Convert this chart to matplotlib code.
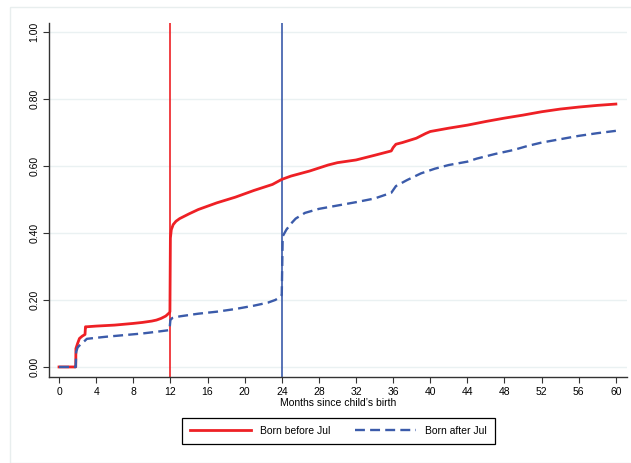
import numpy as np
import matplotlib.pyplot as plt
from matplotlib.patches import Rectangle

plt.rcParams['font.family'] = ['Liberation Sans', 'DejaVu Sans']

# Born before Jul
before_m = [0, 1.8, 1.82, 2.0, 2.2, 2.5, 2.8, 2.85, 3, 4, 6, 8, 9, 10, 10.5, 11, 11.5, 11.9,
            11.95, 12.0, 12.1, 12.3, 12.6, 13, 14, 15, 17, 19, 21, 23, 24, 25, 27, 29, 30,
            32, 34, 35.8, 36.0, 36.3, 37, 38.5, 39.5, 40, 42, 44, 46, 48, 50, 52, 54, 56, 58, 60]
before_v = [0, 0, 0.055, 0.07, 0.085, 0.092, 0.097, 0.12, 0.12, 0.122, 0.125, 0.13, 0.133, 0.137,
            0.14, 0.145, 0.152, 0.162, 0.165, 0.385, 0.41, 0.425, 0.435, 0.443, 0.457, 0.47, 0.49,
            0.507, 0.527, 0.545, 0.56, 0.57, 0.585, 0.603, 0.61, 0.618, 0.632, 0.645, 0.655, 0.665,
            0.67, 0.683, 0.697, 0.703, 0.713, 0.722, 0.733, 0.743, 0.752, 0.762, 0.77, 0.776, 0.781, 0.785]

# Born after Jul
after_m = [0, 1.8, 1.85, 2.0, 2.3, 2.7, 3, 4, 5, 7, 9, 10.5, 11.9, 12.0, 12.2, 13, 15, 17, 19, 21,
           22.5, 23.3, 23.8, 24.0, 24.1, 24.5, 25, 25.5, 26.5, 28, 30, 32, 34, 35.8, 36.3, 37.5,
           39, 40.5, 42, 44, 45, 47, 49, 50.5, 52, 54, 56, 58, 60]
after_v = [0, 0, 0.045, 0.058, 0.067, 0.076, 0.084, 0.087, 0.09, 0.095, 0.1, 0.105, 0.11, 0.14,
           0.146, 0.151, 0.159, 0.165, 0.173, 0.183, 0.192, 0.2, 0.208, 0.215, 0.39, 0.41, 0.428,
           0.443, 0.46, 0.472, 0.482, 0.492, 0.503, 0.52, 0.54, 0.558, 0.578, 0.592, 0.603, 0.613,
           0.622, 0.636, 0.648, 0.66, 0.67, 0.68, 0.69, 0.698, 0.705]

x_ticks = list(range(0, 61, 4))
y_ticks = [0, 0.2, 0.4, 0.6, 0.8, 1.0]
y_labels = ['0.00', '0.20', '0.40', '0.60', '0.80', '1.00']

red = '#EE2025'
blue = '#3B5BAA'

fig = plt.figure(figsize=(6.31, 4.63), dpi=100)
fig.patches.append(Rectangle((10/631, 0), 1, 1 - 7/463, transform=fig.transFigure,
                             fill=False, edgecolor='#E8EEEE', linewidth=1.0))
ax = fig.add_axes([49/631, 86/463, 578/631, 354/463])

for y in y_ticks:
    ax.axhline(y, color='#EAF1F2', linewidth=1.0, zorder=0)

ax.axvline(12, color=red, linewidth=1.2, zorder=2)
ax.axvline(24, color=blue, linewidth=1.2, zorder=2)

l1, = ax.plot(before_m, before_v, color=red, linewidth=2.0, zorder=3,
              solid_joinstyle='round')
l2, = ax.plot(after_m, after_v, color=blue, linewidth=1.7, zorder=3,
              dashes=(4.2, 2.2))

ax.set_xlim(-1.08, 61.2)
ax.set_ylim(-0.03, 1.027)
ax.set_xticks(x_ticks)
ax.set_yticks(y_ticks)
ax.set_yticklabels(y_labels, rotation=90, va='center')
ax.tick_params(labelsize=7.5, length=4, width=0.8, color='#333333', pad=3)
ax.spines['top'].set_visible(False)
ax.spines['right'].set_visible(False)
for s in ['left', 'bottom']:
    ax.spines[s].set_color('#333333')
    ax.spines[s].set_linewidth(1.0)
ax.set_xlabel("Months since child\u2019s birth", fontsize=7.5, labelpad=1)

leg = fig.legend([l1, l2], ['Born before Jul', 'Born after Jul'], loc='center',
                 bbox_to_anchor=(338.5/631, 1 - 431/463), ncol=2, fontsize=7.5,
                 handlelength=5.8, handletextpad=0.9, columnspacing=2.4,
                 fancybox=False, framealpha=1, borderpad=0.8)
leg.get_frame().set_edgecolor('black')
leg.get_frame().set_linewidth(0.9)

fig.savefig('out.png', dpi=100)
